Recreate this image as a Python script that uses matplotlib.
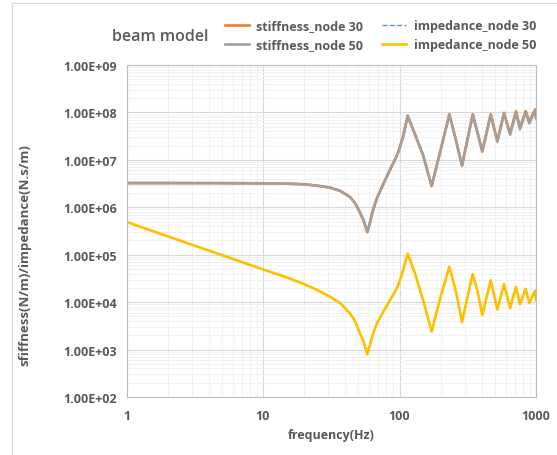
import matplotlib.pyplot as plt
from matplotlib.patches import Rectangle
from matplotlib.ticker import LogLocator, FixedLocator, FixedFormatter, NullFormatter

# frequency points (Hz)
freq = [1, 2, 5, 10, 15, 20, 25, 31, 37, 43.4, 47, 50.1, 54.4, 58.1, 60.5, 63.3, 68,
        75.7, 85.2, 94, 98, 106, 114.8, 130, 149, 172, 200, 232, 260, 287, 315, 344,
        375, 404, 466, 521, 583, 646, 713, 763, 840, 893, 984, 1000]

stiff_50 = [3.24e6, 3.24e6, 3.23e6, 3.2e6, 3.15e6, 3.05e6, 2.85e6, 2.6e6, 2.2e6, 1.65e6,
            1.25e6, 9.0e5, 5.4e5, 3.0e5, 4.5e5, 7.9e5, 1.5e6, 3.0e6, 6.2e6, 1.1e7, 1.45e7,
            3.0e7, 8.5e7, 3.4e7, 1.25e7, 2.8e6, 1.6e7, 9.1e7, 2.5e7, 7.6e6, 2.7e7, 9.1e7,
            3.5e7, 1.5e7, 9.0e7, 2.4e7, 9.5e7, 3.4e7, 1.0e8, 4.4e7, 1.0e8, 5.9e7, 1.1e8, 7.5e7]

stiff_30 = [3.24e6, 3.24e6, 3.23e6, 3.2e6, 3.15e6, 3.05e6, 2.85e6, 2.6e6, 2.2e6, 1.65e6,
            1.25e6, 9.0e5, 5.4e5, 3.0e5, 4.5e5, 7.9e5, 1.5e6, 3.0e6, 6.2e6, 1.1e7, 1.45e7,
            3.0e7, 8.5e7, 3.4e7, 1.25e7, 2.8e6, 1.6e7, 9.1e7, 2.5e7, 7.6e6, 2.7e7, 9.1e7,
            3.5e7, 1.5e7, 9.2e7, 2.5e7, 9.8e7, 3.6e7, 1.06e8, 4.8e7, 1.07e8, 6.4e7, 1.16e8, 8.0e7]

imp_50 = [4.9e5, 2.45e5, 9.8e4, 4.9e4, 3.3e4, 2.4e4, 1.8e4, 1.3e4, 9.4e3, 5.8e3,
          4.1e3, 2.6e3, 1.5e3, 8.0e2, 1.2e3, 1.95e3, 3.5e3, 6.1e3, 1.1e4, 1.8e4, 2.3e4,
          4.5e4, 1.05e5, 4.0e4, 1.1e4, 2.4e3, 1.3e4, 5.6e4, 1.6e4, 3.8e3, 1.3e4, 3.9e4,
          1.6e4, 5.3e3, 2.9e4, 7.0e3, 2.4e4, 7.5e3, 2.1e4, 9.0e3, 1.9e4, 9.6e3, 1.75e4, 1.1e4]

imp_30 = list(imp_50)

ytick_vals = [1e2, 1e3, 1e4, 1e5, 1e6, 1e7, 1e8, 1e9]
ytick_text = ['1.00E+02', '1.00E+03', '1.00E+04', '1.00E+05',
              '1.00E+06', '1.00E+07', '1.00E+08', '1.00E+09']
xtick_vals = [1, 10, 100, 1000]
xtick_text = ['1', '10', '100', '1000']

txt = '#595959'
plt.rcParams['font.family'] = ['Open Sans', 'DejaVu Sans']

fig = plt.figure(figsize=(5.57, 4.56), dpi=100)
fig.patches.append(Rectangle((12 / 557, -0.01), 1.0, 1 - 4 / 456 + 0.01,
                             transform=fig.transFigure, fill=False,
                             edgecolor='#D9D9D9', lw=0.8))

ax = fig.add_axes([126.5 / 557, 1 - 398 / 456, (536 - 126.5) / 557, (398 - 66) / 456])
ax.set_xscale('log')
ax.set_yscale('log')

ax.plot(freq, stiff_30, color='#ED7D31', lw=1.9, label='stiffness_node 30')
ax.plot(freq, stiff_50, color='#A89E98', lw=1.9, label='stiffness_node 50')
ax.plot(freq, imp_30, color='#5B9BD5', lw=1.0, ls='--', label='impedance_node 30')
ax.plot(freq, imp_50, color='#FFC000', lw=1.9, label='impedance_node 50')

ax.set_xlim(1, 1000)
ax.set_ylim(1e2, 1e9)
ax.xaxis.set_major_locator(FixedLocator(xtick_vals))
ax.xaxis.set_major_formatter(FixedFormatter(xtick_text))
ax.yaxis.set_major_locator(FixedLocator(ytick_vals))
ax.yaxis.set_major_formatter(FixedFormatter(ytick_text))
for a in (ax.xaxis, ax.yaxis):
    a.set_minor_locator(LogLocator(base=10, subs=range(2, 10), numticks=20))
    a.set_minor_formatter(NullFormatter())

ax.grid(which='major', color='#D9D9D9', lw=0.8)
ax.grid(which='minor', color='#EFEFEF', lw=0.6)
ax.set_axisbelow(True)
ax.tick_params(which='both', length=0)
ax.tick_params(axis='y', pad=7)
ax.tick_params(axis='x', pad=9)
for lab in ax.get_xticklabels() + ax.get_yticklabels():
    lab.set_fontsize(9)
    lab.set_fontweight('bold')
    lab.set_color(txt)
for s in ax.spines.values():
    s.set_color('#BFBFBF')
    s.set_linewidth(0.8)

ax.set_xlabel('frequency(Hz)', fontsize=9, fontweight='bold', color=txt, labelpad=4)
ax.set_ylabel('sfiffness(N/m)/impedance(N.s/m)', fontsize=9.5, fontweight='bold',
              color=txt)
ax.yaxis.set_label_coords(-(126.5 - 31) / (536 - 126.5), 0.43)

fig.text(208 / 557, 1 - 37 / 456, 'beam model', fontsize=11.5, fontweight='semibold',
         color=txt, ha='right', va='center')
leg = fig.legend(loc='upper left', bbox_to_anchor=(214 / 557, 1 - 9 / 456), ncol=2,
                 frameon=False, fontsize=9, handlelength=1.9, handletextpad=0.6,
                 columnspacing=1.5, labelspacing=0.5)
for t in leg.get_texts():
    t.set_color(txt)
    t.set_fontweight('bold')

fig.savefig('out.png', dpi=100)
